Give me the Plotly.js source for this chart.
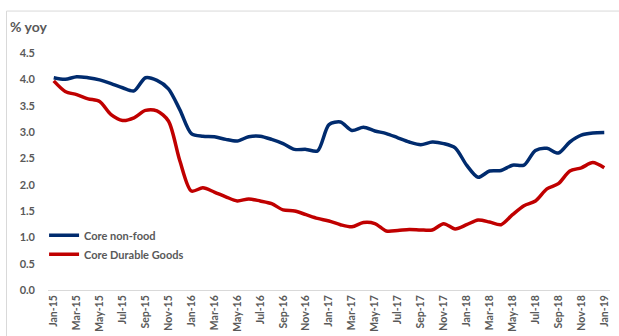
<!DOCTYPE html>
<html>
<head>
<meta charset="utf-8">
<script src="https://cdn.plot.ly/plotly-3.0.1.min.js"></script>
<style>
html,body{margin:0;padding:0;background:#fff;}
#chart{width:619px;height:336px;}
</style>
</head>
<body>
<div id="chart"></div>
<script>
var months = ["Jan-15","Feb-15","Mar-15","Apr-15","May-15","Jun-15","Jul-15","Aug-15","Sep-15","Oct-15","Nov-15","Dec-15",
"Jan-16","Feb-16","Mar-16","Apr-16","May-16","Jun-16","Jul-16","Aug-16","Sep-16","Oct-16","Nov-16","Dec-16",
"Jan-17","Feb-17","Mar-17","Apr-17","May-17","Jun-17","Jul-17","Aug-17","Sep-17","Oct-17","Nov-17","Dec-17",
"Jan-18","Feb-18","Mar-18","Apr-18","May-18","Jun-18","Jul-18","Aug-18","Sep-18","Oct-18","Nov-18","Dec-18",
"Jan-19"];

var coreNonFood = [4.03,4.00,4.05,4.03,3.99,3.92,3.84,3.78,4.03,3.98,3.82,3.42,
2.97,2.92,2.91,2.86,2.83,2.91,2.92,2.86,2.78,2.67,2.67,2.64,
3.14,3.19,3.03,3.09,3.02,2.97,2.89,2.81,2.76,2.81,2.78,2.70,
2.37,2.14,2.26,2.27,2.37,2.37,2.65,2.69,2.60,2.81,2.94,2.98,
2.99];

var coreDurable = [3.97,3.77,3.71,3.63,3.58,3.33,3.22,3.27,3.41,3.40,3.21,2.45,
1.88,1.94,1.86,1.77,1.69,1.73,1.69,1.64,1.52,1.50,1.43,1.36,
1.31,1.24,1.20,1.28,1.26,1.12,1.13,1.15,1.14,1.14,1.26,1.16,
1.24,1.33,1.29,1.24,1.43,1.60,1.69,1.92,2.02,2.26,2.32,2.42,
2.32];

var tickLabels = ["Jan-15","Mar-15","May-15","Jul-15","Sep-15","Nov-15",
"Jan-16","Mar-16","May-16","Jul-16","Sep-16","Nov-16",
"Jan-17","Mar-17","May-17","Jul-17","Sep-17","Nov-17",
"Jan-18","Mar-18","May-18","Jul-18","Sep-18","Nov-18","Jan-19"];

var yTicks = [0,0.5,1,1.5,2,2.5,3,3.5,4,4.5];

var txtColor = "#595959";
var fnt = "Lato, 'Open Sans', sans-serif";

var traces = [
  {x: months, y: coreNonFood, type: "scatter", mode: "lines", name: "Core non-food",
   line: {color: "#002B6E", width: 3.5, shape: "spline", smoothing: 0.8}},
  {x: months, y: coreDurable, type: "scatter", mode: "lines", name: "Core Durable Goods",
   line: {color: "#C00000", width: 3.5, shape: "spline", smoothing: 0.8}}
];

var layout = {
  width: 619, height: 336,
  margin: {l: 48, r: 9, t: 53, b: 45.6, pad: 0},
  paper_bgcolor: "#fff", plot_bgcolor: "#fff",
  showlegend: true,
  legend: {x: -0.007, xanchor: "left", y: 0.292, yanchor: "top",
           font: {family: fnt, size: 11, color: txtColor, weight: "bold"},
           bgcolor: "rgba(0,0,0,0)", itemwidth: 30, tracegroupgap: 0},
  xaxis: {type: "category", range: [-0.5, 48.5], tickmode: "array",
          tickvals: tickLabels, ticktext: tickLabels, tickangle: -90,
          showgrid: false, zeroline: false, showline: true, linecolor: "#d9d9d9", linewidth: 1,
          ticks: "", tickfont: {family: fnt, size: 10.5, color: txtColor, weight: "bold"},
          fixedrange: true},
  yaxis: {range: [0, 4.5], tickmode: "array", tickvals: yTicks,
          ticktext: yTicks.map(function(v){return v.toFixed(1);}),
          showgrid: false, zeroline: false, showline: false, ticks: "",
          ticklabelstandoff: 12,
          tickfont: {family: fnt, size: 11, color: txtColor, weight: "bold"},
          fixedrange: true},
  annotations: [{text: "% yoy", xref: "paper", yref: "paper", x: -0.071, y: 1.11,
                 xanchor: "left", yanchor: "middle", showarrow: false,
                 font: {family: fnt, size: 14, color: txtColor, weight: "bold"}}],
  shapes: [{type: "rect", xref: "paper", yref: "paper", x0: -0.0738, x1: 1.03, y0: -0.21, y1: 1.177,
            line: {color: "#d9d9d9", width: 1}, fillcolor: "rgba(0,0,0,0)", layer: "below"}]
};

Plotly.newPlot("chart", traces, layout, {staticPlot: true, displayModeBar: false});
</script>
</body>
</html>
